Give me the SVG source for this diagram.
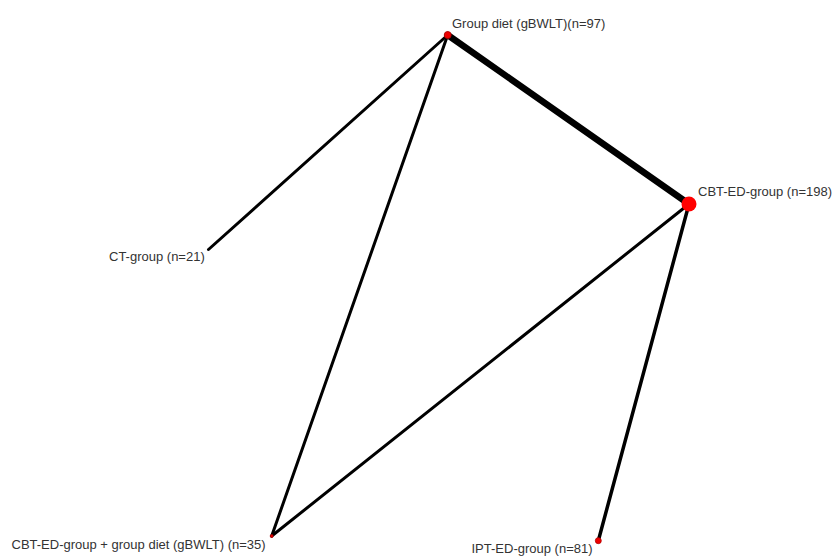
<svg xmlns="http://www.w3.org/2000/svg" width="835" height="557" viewBox="0 0 835 557">
<style>
.e{stroke:#000;fill:none;stroke-linecap:round}
.t{font-family:"Liberation Sans",Arial,sans-serif;font-size:13px;fill:#333}
.n{fill:#ee0000;stroke:#b00000;stroke-width:0.8}
</style>
<rect width="835" height="557" fill="#fff"/>
<g id="connectors">
<line class="e" x1="447.7" y1="35" x2="689" y2="204" stroke-width="6.5"/>
<line class="e" x1="447.7" y1="35" x2="208.5" y2="249.5" stroke-width="3"/>
<line class="e" x1="447.7" y1="35" x2="271.7" y2="536" stroke-width="3"/>
<line class="e" x1="689" y1="204" x2="271.7" y2="536" stroke-width="3"/>
<line class="e" x1="689" y1="204" x2="598.3" y2="540.7" stroke-width="3.5"/>
</g>
<g id="node-group-diet">
<circle class="n" cx="447.7" cy="35" r="3.5"/>
<text class="t" x="452" y="28">Group diet (gBWLT)(n=97)</text>
</g>
<g id="node-cbt-ed-group">
<circle cx="689" cy="204" r="7.5" fill="#ff0000"/>
<text class="t" x="698" y="196">CBT-ED-group (n=198)</text>
</g>
<g id="node-ct-group">
<text class="t" x="109" y="261">CT-group (n=21)</text>
</g>
<g id="node-cbt-ed-diet">
<circle class="n" cx="271.7" cy="536" r="1.5"/>
<text class="t" x="11.5" y="549">CBT-ED-group + group diet (gBWLT) (n=35)</text>
</g>
<g id="node-ipt-ed-group">
<circle class="n" cx="598.3" cy="540.7" r="3"/>
<text class="t" x="471.5" y="553">IPT-ED-group (n=81)</text>
</g>
</svg>
